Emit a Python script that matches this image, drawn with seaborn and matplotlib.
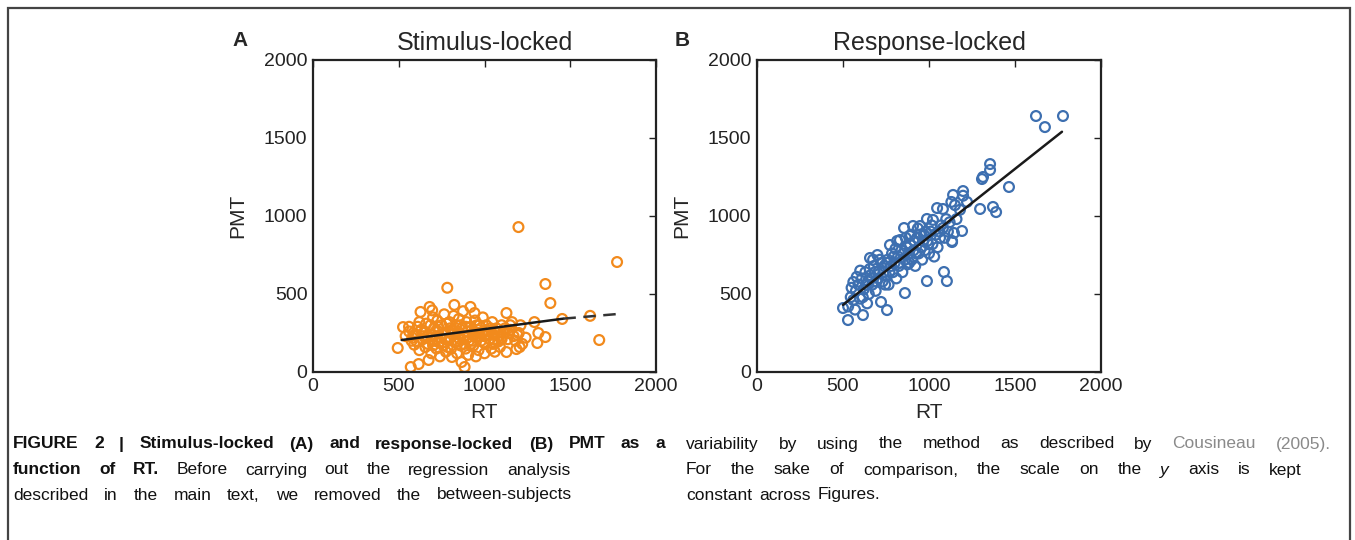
import numpy as np
import pandas as pd
import matplotlib
matplotlib.use("Agg")
import matplotlib.pyplot as plt
from matplotlib.patches import Rectangle
import seaborn as sns

# panel A: stimulus-locked PMT vs RT
stim_rt = [494, 525, 540, 560, 570, 575, 590, 600, 610, 616, 620, 627, 640, 650, 660, 670, 674, 680,
           690, 690, 700, 705, 710, 720, 725, 730, 740, 745, 750, 760, 765, 770, 775, 783, 790, 795,
           800, 805, 810, 815, 820, 824, 830, 835, 840, 845, 850, 855, 860, 866, 870, 875, 880, 884,
           890, 895, 900, 905, 910, 918, 920, 930, 935, 942, 945, 950, 960, 965, 970, 980, 985, 990,
           1000, 1005, 1010, 1020, 1030, 1040, 1045, 1050, 1060, 1070, 1080, 1090, 1100, 1110, 1128,
           1128, 1135, 1150, 1160, 1170, 1186, 1192, 1198, 1210, 1291, 1308, 1314, 1355, 1355, 1384,
           1453, 1616, 1669, 1773,
           560, 585, 605, 630, 655, 665, 685, 695, 715, 735, 755, 780, 785, 800, 825, 840, 860, 880,
           900, 920, 940, 955, 975, 995, 1015, 1035, 1055, 1075, 1095, 1120, 1140, 1180, 1220, 1240,
           1000, 950, 1060, 1205, 1080, 695,
           580, 620, 645, 700, 730, 770, 810, 850, 890, 930, 965, 1010, 1050, 1100, 1150, 1200]
stim_pmt = [154, 288, 230, 260, 32, 200, 175, 240, 290, 51, 140, 385, 210, 260, 310, 180, 77, 417,
            120, 240, 350, 280, 200, 150, 330, 260, 100, 220, 300, 170, 370, 250, 130, 540, 200, 320,
            280, 150, 96, 240, 360, 430, 190, 300, 120, 260, 340, 210, 170, 64, 280, 390, 230, 32,
            150, 320, 260, 110, 200, 417, 290, 240, 170, 378, 330, 220, 270, 140, 300, 200, 250, 350,
            230, 180, 300, 260, 210, 150, 320, 240, 190, 280, 230, 160, 300, 250, 378,
            128, 210, 270, 320, 230, 147, 237, 929, 300, 320, 186, 250, 564, 224, 442,
            340, 360, 205, 705,
            290, 250, 195, 270, 160, 230, 300, 200, 260, 190, 240, 310, 160, 220, 260, 200, 300, 180,
            220, 180, 260, 300, 230, 190, 240, 280, 210, 250, 220, 280, 250, 200, 180, 220,
            120, 100, 130, 160, 195, 395,
            220, 320, 230, 170, 290, 210, 270, 240, 290, 200, 250, 270, 180, 210, 300, 250]

# panel B: response-locked PMT vs RT
resp_rt = [500, 529, 530, 545, 560, 560, 570, 575, 590, 600, 610, 616, 620, 630, 640, 645, 650, 657,
           660, 670, 680, 690, 700, 705, 710, 721, 725, 730, 740, 750, 756, 760, 765, 773, 780, 785,
           790, 800, 805, 810, 820, 825, 831, 840, 845, 855, 860, 860, 870, 875, 880, 889, 890, 900,
           907, 910, 920, 930, 940, 948, 948, 955, 960, 970, 975, 988, 988, 990, 1000, 1010, 1020,
           1023, 1030, 1040, 1047, 1050, 1064, 1070, 1081, 1081, 1087, 1090, 1100, 1104, 1110, 1130,
           1134, 1134, 1140, 1145, 1151, 1160, 1180, 1192, 1198, 1198, 1221, 1297, 1308, 1314, 1355,
           1355, 1372, 1390, 1465, 1622, 1674, 1779,
           550, 580, 600, 615, 635, 655, 665, 675, 685, 695, 715, 735, 745, 755, 770, 795, 815, 830,
           850, 865, 885, 895, 915, 925, 935, 965, 980, 995, 1015, 1060, 1120]
resp_pmt = [410, 333, 420, 480, 461, 577, 400, 520, 560, 470, 600, 365, 530, 640, 440, 580, 500, 731,
            620, 560, 680, 520, 750, 600, 650, 449, 700, 580, 680, 620, 397, 720, 560, 814, 680, 760,
            640, 700, 790, 600, 740, 680, 846, 780, 640, 923, 506, 720, 800, 690, 760, 872, 820, 720,
            936, 780, 680, 860, 760, 881, 936, 800, 720, 880, 780, 981, 583, 840, 760, 900, 820,
            975, 740, 880, 1051, 800, 859, 940, 1045, 923, 641, 860, 980, 583, 900, 1090,
            840, 833, 1135, 891, 1070, 980, 1040, 904, 1160, 1130, 1090, 1045, 1237, 1250, 1333,
            1295, 1058, 1025, 1186, 1641, 1570, 1641,
            540, 610, 650, 480, 560, 660, 600, 720, 640, 580, 720, 640, 560, 700, 640, 740, 840, 700,
            760, 860, 700, 880, 840, 760, 920, 840, 900, 820, 940, 900, 960]

# regression lines (end points)
stim_fit_rt = [517, 1460]
stim_fit_pmt = [205, 342]
stim_fit_tail_rt = [1460, 1779]
stim_fit_tail_pmt = [342, 372]
resp_fit_rt = [500, 1773]
resp_fit_pmt = [430, 1540]

ticks = [0, 500, 1000, 1500, 2000]

sns.set_style("white")
plt.rcParams['font.family'] = ['Liberation Sans', 'DejaVu Sans']

W, H = 1355, 540
fig = plt.figure(figsize=(W / 100, H / 100), dpi=100)

def fx(px):
    return px / W

def fy(py):
    return 1 - py / H

# frame around the whole figure
fig.patches.append(Rectangle((fx(8), fy(560)), fx(1350) - fx(8), fy(8) - fy(560),
                             transform=fig.transFigure, fill=False,
                             edgecolor='#444444', linewidth=1.6))

ax_a = fig.add_axes([fx(313), fy(372), fx(656) - fx(313), fy(60) - fy(372)])
ax_b = fig.add_axes([fx(757), fy(372), fx(1101) - fx(757), fy(60) - fy(372)])

orange = '#f28a1c'
blue = '#3d6fb0'

df_a = pd.DataFrame({'RT': stim_rt, 'PMT': stim_pmt})
df_b = pd.DataFrame({'RT': resp_rt, 'PMT': resp_pmt})

sns.scatterplot(data=df_a, x='RT', y='PMT', ax=ax_a, marker='o', s=50,
                facecolor='none', edgecolor=orange, linewidth=1.6, zorder=2)
sns.lineplot(x=stim_fit_rt, y=stim_fit_pmt, ax=ax_a, color='#1a1a1a', linewidth=1.8, zorder=3)
sns.lineplot(x=stim_fit_tail_rt, y=stim_fit_tail_pmt, ax=ax_a, color='#333333',
             linewidth=1.8, linestyle=(0, (5, 3)), zorder=3)

sns.scatterplot(data=df_b, x='RT', y='PMT', ax=ax_b, marker='o', s=50,
                facecolor='none', edgecolor=blue, linewidth=1.6, zorder=2)
sns.lineplot(x=resp_fit_rt, y=resp_fit_pmt, ax=ax_b, color='#1a1a1a', linewidth=1.8, zorder=3)

for ax, title in [(ax_a, 'Stimulus-locked'), (ax_b, 'Response-locked')]:
    ax.set_xlim(0, 2000)
    ax.set_ylim(0, 2000)
    ax.set_xticks(ticks)
    ax.set_yticks(ticks)
    ax.tick_params(direction='in', length=5, width=1, top=True, right=True,
                   labelsize=14, pad=4, colors='#222222')
    for sp in ax.spines.values():
        sp.set_visible(True)
        sp.set_linewidth(1.6)
        sp.set_color('#222222')
    ax.set_xlabel('RT', fontsize=15, labelpad=6)
    ax.set_ylabel('PMT', fontsize=15, labelpad=12)
    ax.set_title(title, fontsize=18, pad=7)

fig.text(fx(240), fy(40), 'A', fontsize=15, fontweight='bold', ha='center', va='center')
fig.text(fx(682), fy(40), 'B', fontsize=15, fontweight='bold', ha='center', va='center')

# caption, justified word by word
cap_font = ['Liberation Sans Narrow', 'Liberation Sans', 'DejaVu Sans']
renderer = fig.canvas.get_renderer()

def justify(words, x0, x1, y):
    items = []
    for w in words:
        text, props = w if isinstance(w, tuple) else (w, {})
        kw = dict(fontsize=12.5, family=cap_font, color='#111111', va='center', ha='left')
        kw.update(props)
        items.append(fig.text(fx(x0), fy(y), text, **kw))
    widths = [t.get_window_extent(renderer).width for t in items]
    gap = (x1 - x0 - sum(widths)) / max(len(items) - 1, 1)
    x = x0
    for t, wd in zip(items, widths):
        t.set_x(fx(x))
        x += wd + gap

bold = {'fontweight': 'bold'}
gray = {'color': '#8a8a8a'}
justify([(w, bold) for w in 'FIGURE 2 | Stimulus-locked (A) and response-locked (B) PMT as a'.split()],
        13, 665, 444)
justify([('function', bold), ('of', bold), ('RT.', bold)] +
        'Before carrying out the regression analysis'.split(), 13, 570, 470)
justify('described in the main text, we removed the between-subjects'.split(), 13, 572, 495)
justify('variability by using the method as described by'.split() +
        [('Cousineau', gray), ('(2005).', gray)], 686, 1331, 444)
justify('For the sake of comparison, the scale on the'.split() +
        [('y', {'style': 'italic'})] + 'axis is kept'.split(), 686, 1302, 470)
justify('constant across Figures.'.split(), 686, 880, 495)

fig.savefig('out.png', dpi=100)
